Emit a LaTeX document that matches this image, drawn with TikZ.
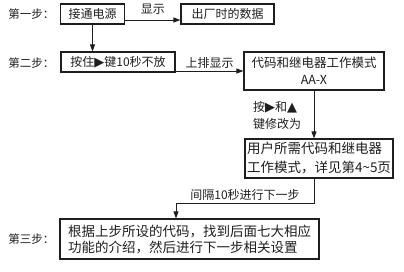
\documentclass[tikz,border=0pt]{standalone}
\usepackage{fontspec}
\setmainfont{Noto Sans CJK SC}
\newfontfamily\symfont{DejaVu Sans}
\usepackage{tikz}
\usetikzlibrary{arrows.meta, positioning, calc}
\definecolor{ink}{HTML}{1E1E1E}
\tikzstyle{box}      = [rectangle, draw=ink, line width=1.1pt, inner sep=2pt,
                        text=ink, align=center]
\tikzstyle{arrow}    = [-{Triangle[length=7pt,width=5pt]}, line width=0.9pt, color=ink]
\tikzstyle{steptext} = [anchor=east, text=ink, font=\fontsize{11.5}{14}\selectfont]
\tikzstyle{linetext} = [text=ink, inner sep=1pt, font=\fontsize{12}{17}\selectfont]
\newcommand{\tri}[1]{{\symfont\fontsize{13}{12}\selectfont #1}}

\begin{document}
\begin{tikzpicture}[x=1pt, y=-1pt, font=\fontsize{12}{15}\selectfont]
  \useasboundingbox (0,0) rectangle (404,271);

  %% step one
  \node[steptext] (stepone) at (58,14) {第一步：};
  \node[box, minimum width=64pt, minimum height=20pt] (power) at (92.5,14) {接通电源};
  \node[box, minimum width=93pt, minimum height=20pt] (factory) at (227.5,14) {出厂时的数据};

  %% step two
  \node[steptext] (steptwo) at (58,63) {第二步：};
  \node[box, minimum width=114pt, minimum height=20pt] (hold) at (118,62)
    {按住\tri{▶}键10秒不放};
  \node[box, minimum width=140pt, minimum height=38pt,
        font=\fontsize{12.5}{17}\selectfont] (mode) at (314,71)
    {代码和继电器工作模式\\AA-X};
  \node[box, minimum width=146pt, minimum height=39pt, align=left,
        font=\fontsize{13.5}{19}\selectfont] (wanted) at (319,158.5)
    {用户所需代码和继电器\\工作模式，详见第4\textasciitilde5页};

  %% step three
  \node[steptext] (stepthree) at (58,239) {第三步：};
  \node[box, minimum width=259pt, minimum height=40pt, align=left,
        font=\fontsize{13.5}{16}\selectfont] (function) at (189.5,239)
    {根据上步所设的代码，找到后面七大相应\\功能的介绍，然后进行下一步相关设置};

  %% arrows
  \draw[arrow] ([yshift=-6pt]power.east) -- ([yshift=-6pt]factory.west)
    node[linetext, midway, above=4pt] {显示};
  \draw[arrow] (power.south) -- (power.south |- hold.north);
  \draw[arrow] (hold.east |- mode.west) -- (mode.west)
    node[linetext, midway, above=1pt] {上排显示};
  \draw[arrow] (mode.south) -- (mode.south |- wanted.north);
  \node[linetext, align=left] (modify) at (277,115) {按\tri{▶}和\tri{▲}\\键修改为};

  \coordinate (turn) at (176,203);
  \draw[arrow] (mode.south |- wanted.south) |- (turn) -- (turn |- function.north);
  \node[linetext, above=1pt] (wait) at (245,203) {间隔10秒进行下一步};

\end{tikzpicture}
\end{document}
